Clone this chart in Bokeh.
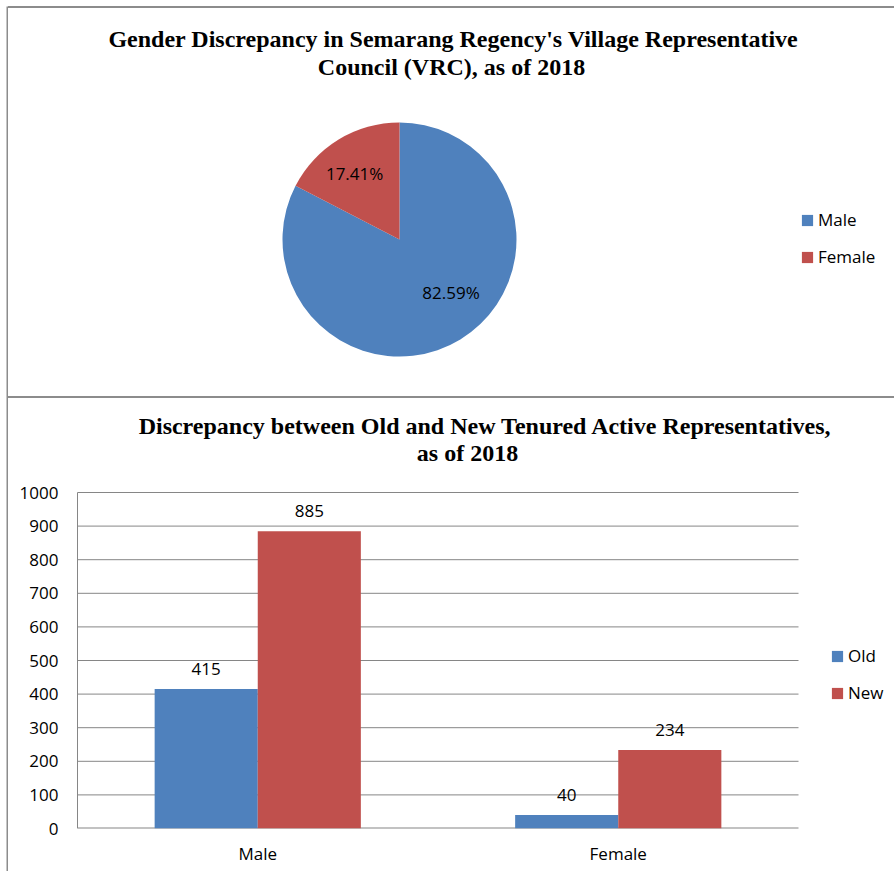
import numpy as np
from bokeh.plotting import figure
from bokeh.layouts import column, row
from bokeh.models import (Range1d, Label, Legend, LegendItem, FixedTicker,
                          ColumnDataSource, Div)
from bokeh.transform import dodge
from bokeh.core.properties import value
from bokeh.embed import file_html
from bokeh.resources import INLINE

# ---------------- data ----------------
pie_title = ["Gender Discrepancy in Semarang Regency's Village Representative",
             "Council (VRC), as of 2018"]
pie_labels = ["Male", "Female"]
pie_percent = [82.59, 17.41]

bar_title = ["Discrepancy between Old and New Tenured Active Representatives,",
             "as of 2018"]
bar_categories = ["Male", "Female"]
bar_series = ["Old", "New"]
old_values = [415, 40]
new_values = [885, 234]
y_ticks = [0, 100, 200, 300, 400, 500, 600, 700, 800, 900, 1000]

# ---------------- styles ----------------
BLUE = "#4F81BD"
RED = "#C0504D"
GRID = "#868686"
BORDER = "#8c8c8c"
SANS = "Open Sans"
SERIF = "Liberation Serif"
FS = "17px"
TFS = "24px"

W = 886           # width of the two chart panels
LB = 67           # left border (room for y tick labels)

# ---------------- pie figure ----------------
R = 117
H1 = 388
p1 = figure(width=W, height=H1, toolbar_location=None, output_backend="svg",
            x_range=Range1d(-324, W - LB - 324), y_range=Range1d(-(H1 - 231), 231),
            x_axis_type=None, y_axis_type=None,
            min_border_left=LB, min_border_right=0, min_border_top=0,
            min_border_bottom=0, outline_line_color=None)
p1.grid.visible = False

frac = np.array(pie_percent) / 100.0
cum = np.concatenate([[0], np.cumsum(frac)])
start = np.pi / 2 - 2 * np.pi * cum[:-1]
end = np.pi / 2 - 2 * np.pi * cum[1:]
mid = (start + end) / 2
lab_shift = np.radians([13.0, 3.0])     # label placement tweaks (style)
lab_r = np.array([0.63, 0.68]) * R
pie_src = ColumnDataSource(dict(
    label=pie_labels, start=start, end=end, color=[BLUE, RED],
    lx=lab_r * np.cos(mid + lab_shift), ly=lab_r * np.sin(mid + lab_shift),
    txt=[f"{v:.2f}%" for v in pie_percent]))
wr = p1.wedge(x=0, y=0, radius=R, start_angle="start", end_angle="end",
              direction="clock", fill_color="color", line_color=None, source=pie_src)
p1.text(x="lx", y="ly", text="txt", source=pie_src, text_align="center",
        text_baseline="middle", text_font=value(SANS), text_font_size=FS,
        text_color="#000000")

for t, ty, tx in zip(pie_title, [358, 330], [378, 376]):
    p1.add_layout(Label(x=tx, y=ty, x_units="screen", y_units="screen", text=t,
                        text_align="center", text_baseline="middle",
                        text_font=SERIF, text_font_style="bold",
                        text_font_size=TFS, text_color="#000000"))

leg1 = Legend(items=[LegendItem(label=pie_labels[i], renderers=[wr], index=i)
                     for i in range(len(pie_labels))],
              location=(725, 128), glyph_width=14, glyph_height=14,
              label_standoff=4, spacing=14, padding=0, margin=0,
              border_line_color=None, background_fill_alpha=0,
              label_text_font=SANS, label_text_font_size=FS,
              label_text_color="#000000")
p1.add_layout(leg1)

# ---------------- bar figure ----------------
H2 = 473
BB = 43                      # bottom border
n = len(bar_categories)
cat_px = 360.5               # pixels per category
frame_w = W - LB
frame_h = H2 - BB
x0_px = 2                    # frame starts 2px left of the value axis
unit = 1000 / 336.0          # values per pixel
x_pos = np.arange(n) + 0.5
p2 = figure(width=W, height=H2, toolbar_location=None, output_backend="svg",
            x_range=Range1d(-x0_px / cat_px, (frame_w - x0_px) / cat_px),
            y_range=Range1d(0, frame_h * unit),
            min_border_left=LB, min_border_right=0, min_border_top=0,
            min_border_bottom=BB, outline_line_color=None)
p2.grid.visible = False

# gridlines, value axis line and baseline
p2.segment(x0=0, x1=n, y0=y_ticks[1:], y1=y_ticks[1:], line_color=GRID, line_width=1)
p2.segment(x0=0, x1=0, y0=0, y1=y_ticks[-1], line_color=GRID, line_width=1)
p2.segment(x0=0, x1=n, y0=0, y1=0, line_color=GRID, line_width=2)

src = ColumnDataSource(dict(x=x_pos, old=old_values, new=new_values,
                            old_s=[str(v) for v in old_values],
                            new_s=[str(v) for v in new_values]))
bw = 0.286
r_old = p2.vbar(x=dodge("x", -bw / 2), top="old", width=bw, fill_color=BLUE,
                line_color=None, source=src)
r_new = p2.vbar(x=dodge("x", bw / 2), top="new", width=bw, fill_color=RED,
                line_color=None, source=src)
for col, off in (("old", -bw / 2), ("new", bw / 2)):
    p2.text(x=dodge("x", off), y=col, text=col + "_s",
            source=src, text_align="center", text_baseline="middle", y_offset=-20,
            text_font=value(SANS), text_font_size=FS, text_color="#000000")

p2.yaxis.ticker = FixedTicker(ticks=y_ticks)
p2.xaxis.ticker = FixedTicker(ticks=list(x_pos))
p2.xaxis.major_label_overrides = {float(x): c for x, c in zip(x_pos, bar_categories)}
for ax in (p2.xaxis, p2.yaxis):
    ax.axis_line_color = None
    ax.major_tick_line_color = None
    ax.minor_tick_line_color = None
    ax.major_tick_out = 0
    ax.major_tick_in = 0
    ax.minor_tick_out = 0
    ax.major_label_text_font = SANS
    ax.major_label_text_font_size = FS
    ax.major_label_text_color = "#000000"
p2.yaxis.major_label_standoff = 17
p2.xaxis.major_label_standoff = 13

for t, ty, tx in zip(bar_title, [403, 376], [410, 392]):
    p2.add_layout(Label(x=tx, y=ty, x_units="screen", y_units="screen", text=t,
                        text_align="center", text_baseline="middle",
                        text_font=SERIF, text_font_style="bold",
                        text_font_size=TFS, text_color="#000000"))

leg2 = Legend(items=[LegendItem(label=bar_series[0], renderers=[r_old]),
                     LegendItem(label=bar_series[1], renderers=[r_new])],
              location=(755, 124), glyph_width=14, glyph_height=14,
              label_standoff=4, spacing=14, padding=0, margin=0,
              border_line_color=None, background_fill_alpha=0,
              label_text_font=SANS, label_text_font_size=FS,
              label_text_color="#000000")
p2.add_layout(leg2)


# ---------------- panel border lines ----------------
def hline():
    return Div(text="", width=W, height=2, margin=0,
               styles={"background-color": BORDER, "min-height": "2px",
                       "height": "2px", "line-height": "0", "font-size": "0"})


left_line = figure(width=2, height=2 + H1 + 2 + H2, toolbar_location=None,
                   output_backend="svg", x_axis_type=None, y_axis_type=None,
                   min_border=0, outline_line_color=None,
                   background_fill_color=BORDER, border_fill_color=BORDER)
left_line.grid.visible = False

layout = row(left_line, column(hline(), p1, hline(), p2, spacing=0),
             spacing=0, margin=(6, 0, 0, 6))
open("out.html", "w").write(file_html(layout, INLINE))
